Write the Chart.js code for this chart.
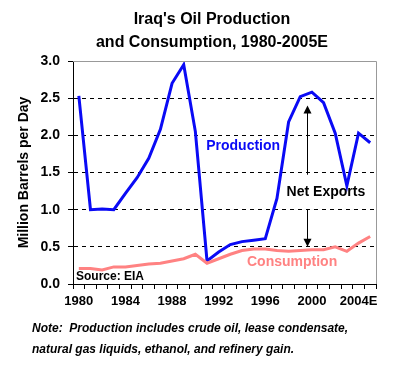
<!DOCTYPE html>
<html>
<head>
<meta charset="utf-8">
<script src="https://cdn.jsdelivr.net/npm/chart.js@4/dist/chart.umd.min.js"></script>
<style>
  html, body { margin: 0; padding: 0; background: #fff; }
  #wrap { width: 395px; height: 367px; }
</style>
</head>
<body>
<div id="wrap"><canvas id="c" width="395" height="367"></canvas></div>
<script>
const years = ['1980','1981','1982','1983','1984','1985','1986','1987','1988','1989','1990','1991','1992','1993','1994','1995','1996','1997','1998','1999','2000','2001','2002','2003','2004E','2005E'];
const production = [2.53, 1.00, 1.01, 1.00, 1.22, 1.43, 1.69, 2.08, 2.70, 2.95, 2.05, 0.31, 0.43, 0.53, 0.57, 0.59, 0.61, 1.15, 2.18, 2.52, 2.58, 2.44, 2.03, 1.32, 2.03, 1.90];
const consumption = [0.21, 0.21, 0.19, 0.23, 0.23, 0.25, 0.27, 0.28, 0.31, 0.34, 0.40, 0.28, 0.34, 0.40, 0.45, 0.47, 0.47, 0.45, 0.44, 0.45, 0.46, 0.46, 0.50, 0.44, 0.55, 0.64];
const yTickValues = [0.0, 0.5, 1.0, 1.5, 2.0, 2.5, 3.0];
const titleLines = ["Iraq's Oil Production", "and Consumption, 1980-2005E"];
const noteLines = ["Note:  Production includes crude oil, lease condensate,", "natural gas liquids, ethanol, and refinery gain."];

const FONT = "'Liberation Sans', Arial, Helvetica, sans-serif";
const BLUE = '#0A0AF5';
const PINK = '#FF8282';

const extras = {
  id: 'extras',
  afterDraw(chart) {
    const ctx = chart.ctx;
    const x = chart.scales.x, y = chart.scales.y;
    const ca = chart.chartArea;
    ctx.save();
    // gray frame top and right
    ctx.strokeStyle = '#999999';
    ctx.lineWidth = 1;
    ctx.beginPath();
    ctx.moveTo(ca.left, ca.top + 0.5);
    ctx.lineTo(ca.right + 0.5, ca.top + 0.5);
    ctx.lineTo(ca.right + 0.5, ca.bottom);
    ctx.stroke();

    // title
    ctx.fillStyle = '#000';
    ctx.textAlign = 'center';
    ctx.textBaseline = 'alphabetic';
    ctx.font = 'bold 16px ' + FONT;
    ctx.fillText(titleLines[0], 212, 24);
    ctx.fillText(titleLines[1], 212, 47);

    // note
    ctx.textAlign = 'left';
    ctx.font = 'italic bold 12px ' + FONT;
    ctx.fillText(noteLines[0], 32, 332);
    ctx.fillText(noteLines[1], 32, 353);

    // annotations
    ctx.font = 'bold 14px ' + FONT;
    ctx.textAlign = 'center';
    ctx.textBaseline = 'middle';
    ctx.fillStyle = BLUE;
    ctx.fillText('Production', x.getPixelForValue(14.1), y.getPixelForValue(1.86));
    ctx.fillStyle = PINK;
    ctx.fillText('Consumption', x.getPixelForValue(18.3), y.getPixelForValue(0.30));
    ctx.fillStyle = '#000';
    ctx.fillText('Net Exports', x.getPixelForValue(21.2), y.getPixelForValue(1.23));

    // arrows
    const ax = Math.round(x.getPixelForValue(19.57)) + 0.5;
    const upFrom = y.getPixelForValue(1.47), upTo = y.getPixelForValue(2.40);
    const dnFrom = y.getPixelForValue(1.0), dnTo = y.getPixelForValue(0.50);
    ctx.strokeStyle = '#000';
    ctx.lineWidth = 1;
    ctx.beginPath();
    ctx.moveTo(ax, upFrom); ctx.lineTo(ax, upTo + 6);
    ctx.moveTo(ax, dnFrom); ctx.lineTo(ax, dnTo - 6);
    ctx.stroke();
    ctx.beginPath();
    ctx.moveTo(ax, upTo); ctx.lineTo(ax - 4, upTo + 8); ctx.lineTo(ax + 4, upTo + 8); ctx.closePath();
    ctx.moveTo(ax, dnTo); ctx.lineTo(ax - 4, dnTo - 8); ctx.lineTo(ax + 4, dnTo - 8); ctx.closePath();
    ctx.fill();

    // source
    ctx.textAlign = 'left';
    ctx.textBaseline = 'alphabetic';
    ctx.font = 'bold 12px ' + FONT;
    ctx.fillText('Source: EIA', ca.left + 3, ca.bottom - 4);
    ctx.restore();
  }
};

new Chart(document.getElementById('c'), {
  type: 'line',
  data: {
    labels: years,
    datasets: [
      { label: 'Consumption', data: consumption, borderColor: PINK, borderWidth: 3, pointRadius: 0, tension: 0, fill: false },
      { label: 'Production', data: production, borderColor: BLUE, borderWidth: 3, pointRadius: 0, tension: 0, fill: false }
    ]
  },
  options: {
    responsive: false,
    animation: false,
    devicePixelRatio: 1,
    layout: { padding: { top: 61, right: 19, left: 0, bottom: 0 } },
    plugins: { legend: { display: false }, title: { display: false }, tooltip: { enabled: false } },
    scales: {
      x: {
        type: 'category',
        offset: true,
        afterFit(s) { s.height = 83; },
        grid: { display: true, drawOnChartArea: false, offset: true, drawTicks: true, tickLength: 5, tickColor: '#000' },
        border: { display: true, color: '#000', width: 1 },
        ticks: {
          autoSkip: false, maxRotation: 0, minRotation: 0, padding: 5, color: '#000',
          font: { family: FONT, size: 13, weight: 'bold' },
          callback(v, i) { return i % 4 === 0 ? years[i] : ''; }
        }
      },
      y: {
        min: 0, max: 3,
        afterFit(s) { s.width = 73; },
        afterBuildTicks(s) {
          const t = [];
          for (let i = 0; i <= 12; i++) t.push({ value: i * 0.25 });
          s.ticks = t;
        },
        grid: {
          drawOnChartArea: true, drawTicks: true, tickLength: 5, tickColor: '#000',
          color(c) {
            const v = c.tick ? c.tick.value : 0;
            return (yTickValues.includes(v) && v > 0 && v < 3) ? '#000' : 'rgba(0,0,0,0)';
          }
        },
        border: { display: true, color: '#000', width: 1, dash: [4, 4] },
        title: { display: true, text: 'Million Barrels per Day', color: '#000', font: { family: FONT, size: 14, weight: 'bold' }, padding: { top: 16, bottom: 0 } },
        ticks: {
          padding: 8, color: '#000',
          font: { family: FONT, size: 14, weight: 'bold' },
          callback(v) { return yTickValues.includes(v) ? v.toFixed(1) : ''; }
        }
      }
    }
  },
  plugins: [extras]
});
</script>
</body>
</html>
